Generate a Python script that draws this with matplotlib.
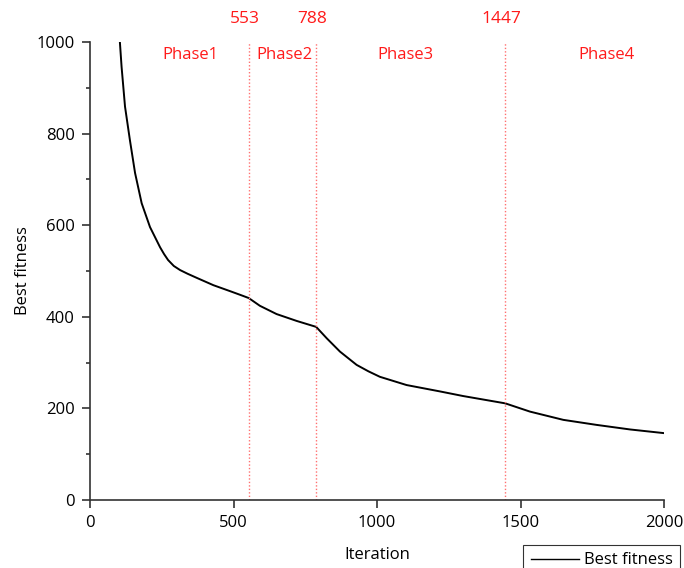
import matplotlib
matplotlib.use("Agg")
import matplotlib.pyplot as plt
from matplotlib.ticker import MultipleLocator

plt.rcParams['font.family'] = ['Open Sans', 'DejaVu Sans']

iteration = [95, 104, 110, 122, 139, 157, 180, 209, 244, 258, 272, 292, 314, 340, 372, 430, 488,
             523, 553, 592, 650, 720, 788, 825, 871, 929, 970, 1010, 1103, 1220,
             1300, 1447, 1533, 1649, 1765, 1882, 2000]
best_fitness = [1080, 1001, 946, 859, 786, 714, 648, 596, 552, 537, 524, 511, 502, 494, 485, 469, 456,
                448, 441, 424, 406, 391, 378, 353, 324, 295, 281, 269, 251, 237,
                227, 211, 193, 175, 164, 154, 146]

phase_bounds = [553, 788, 1447]
phase_names = ["Phase1", "Phase2", "Phase3", "Phase4"]
phase_label_x = [350, 677, 1100, 1800]

fig = plt.figure(figsize=(6.84, 5.68), dpi=100)
ax = fig.add_axes([90/684, 1-500/568, 574/684, 458/568])

ax.plot(iteration, best_fitness, color='black', lw=1.4, label='Best fitness')

for b in phase_bounds:
    ax.axvline(b, ymin=0, ymax=1, color='#ff7070', lw=1.0, ls=(0, (1, 1.5)))
    ax.text(b - 14, 1050, str(b), color='#ff1a1a', fontsize=12.5, ha='center', va='center',
            clip_on=False)

for name, px in zip(phase_names, phase_label_x):
    ax.text(px, 971, name, color='#ff1a1a', fontsize=12, ha='center', va='center')

ax.set_xlim(0, 2000)
ax.set_ylim(0, 1000)
ax.xaxis.set_major_locator(MultipleLocator(500))
ax.yaxis.set_major_locator(MultipleLocator(200))
ax.yaxis.set_minor_locator(MultipleLocator(100))

for s in ['top', 'right']:
    ax.spines[s].set_visible(False)
for s in ['left', 'bottom']:
    ax.spines[s].set_linewidth(1.2)
    ax.spines[s].set_color('#333333')

ax.tick_params(axis='both', which='major', direction='out', length=6, width=1.2,
               color='#333333', labelsize=12, pad=5)
ax.tick_params(axis='y', which='minor', direction='out', length=3, width=1.2, color='#333333')

ax.set_xlabel('Iteration', fontsize=12, labelpad=11)
ax.set_ylabel('Best fitness', fontsize=12, labelpad=4)

leg = ax.legend(loc='upper left', bbox_to_anchor=(523/684, 1-545/568),
                bbox_transform=fig.transFigure, fontsize=12, frameon=True,
                fancybox=False, edgecolor='black', handlelength=2.9,
                borderpad=0.45, handletextpad=0.3, borderaxespad=0)
leg.get_frame().set_linewidth(0.8)
for h in leg.get_lines():
    h.set_linewidth(1.0)

fig.savefig('out.png', dpi=100)
